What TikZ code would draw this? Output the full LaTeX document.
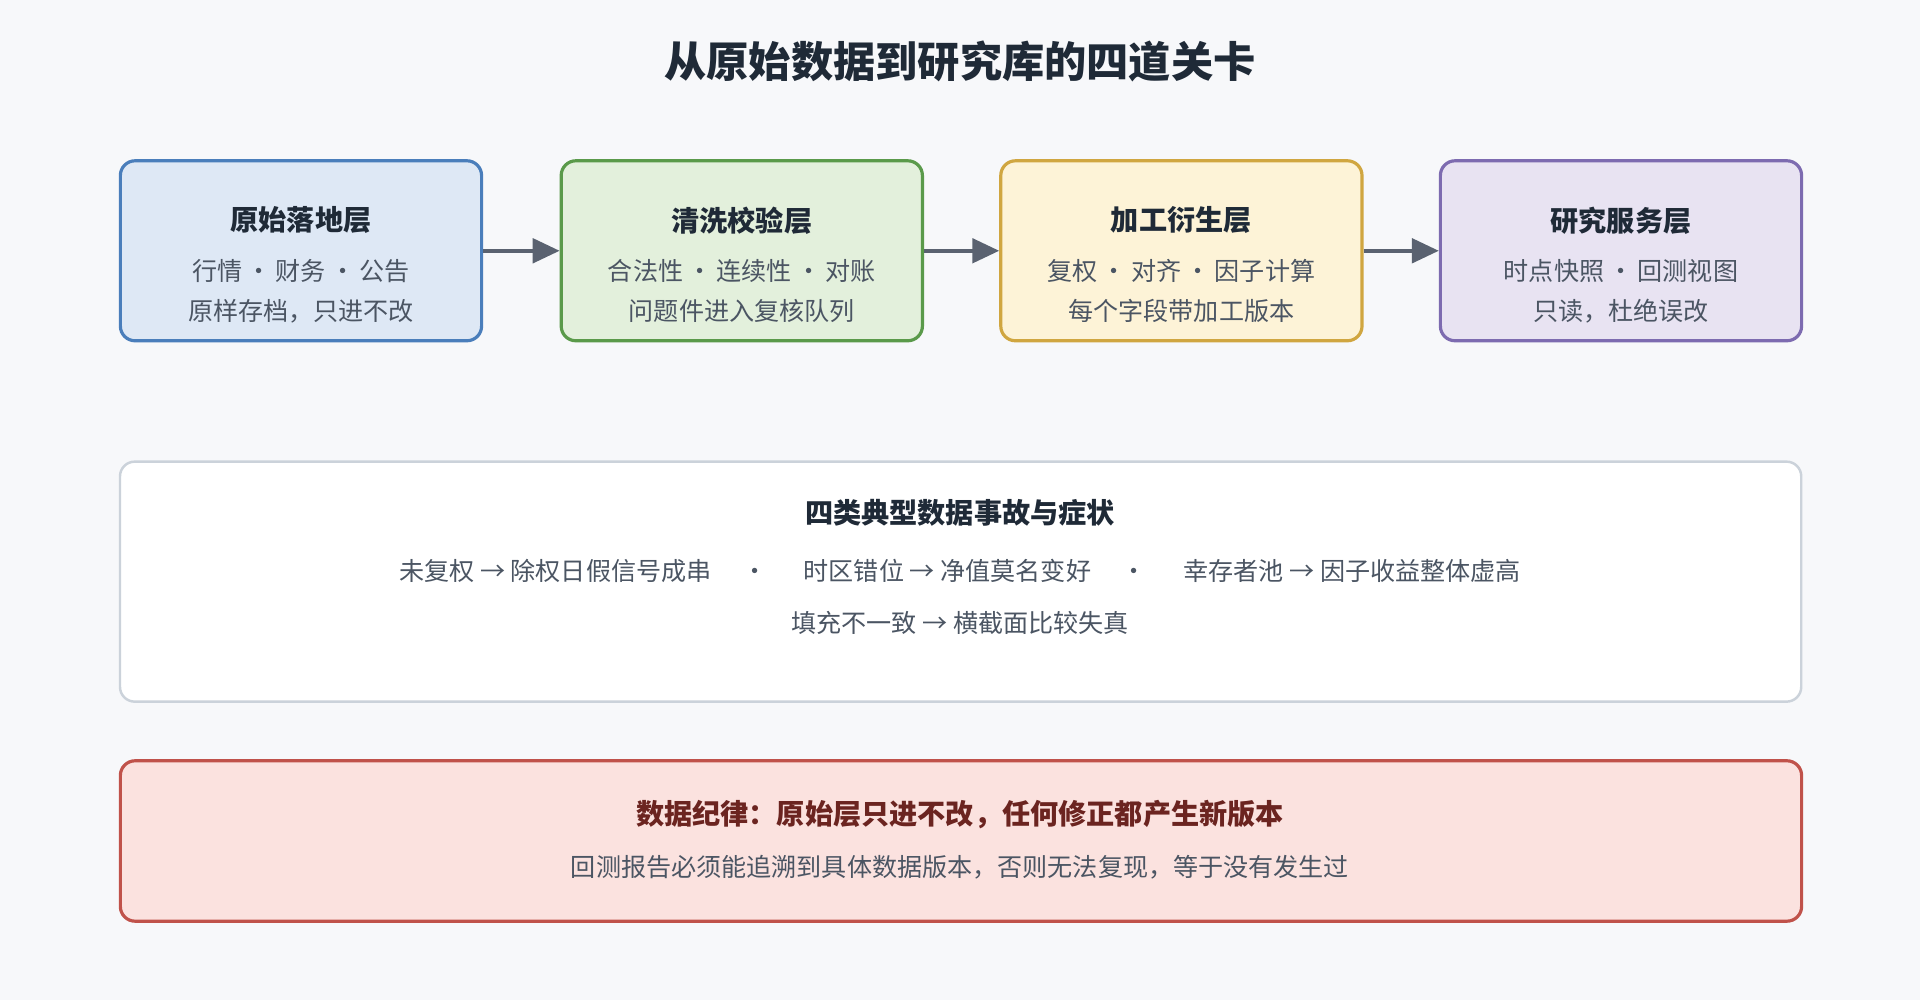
\documentclass[tikz,border=0pt]{standalone}
\usepackage{fontspec}
\setmainfont{Noto Sans CJK SC}
\usetikzlibrary{arrows.meta}
\definecolor{bg}{HTML}{F7F8FA}
\definecolor{ttl}{HTML}{1F2A37}
\definecolor{body}{HTML}{4B5563}
\definecolor{fA}{HTML}{DEE8F5}\definecolor{dA}{HTML}{4A7EBB}
\definecolor{fB}{HTML}{E3F0DC}\definecolor{dB}{HTML}{5A9A4A}
\definecolor{fC}{HTML}{FDF3D7}\definecolor{dC}{HTML}{D0A640}
\definecolor{fD}{HTML}{E8E3F2}\definecolor{dD}{HTML}{7D6BB0}
\definecolor{fR}{HTML}{FBE2DF}\definecolor{dR}{HTML}{C0524A}
\definecolor{tR}{HTML}{6B2420}
\definecolor{grayb}{HTML}{CBD2DA}
\definecolor{arr}{HTML}{5A6270}
\tikzset{
 box/.style={draw, line width=2.6pt, rounded corners=12pt, minimum width=295pt, minimum height=147pt, anchor=north west},
 wide/.style={draw, line width=2pt, rounded corners=12pt, minimum width=1373pt, anchor=north west},
 hd/.style={font=\fontsize{23}{27}\selectfont\bfseries, text=ttl},
 tx/.style={font=\fontsize{20.5}{24}\selectfont, text=body},
 ar/.style={draw=arr, line width=3pt, -{Triangle[length=22pt,width=20pt]}}
}
\begin{document}
\begin{tikzpicture}[x=1pt,y=-1pt]
\fill[bg] (0,0) rectangle (1568,817);
\useasboundingbox (0,0) rectangle (1568,817);
\node[font=\fontsize{34.5}{38}\selectfont\bfseries, text=ttl] (title) at (784,50) {从原始数据到研究库的四道关卡};
\node[box, fill=fA, draw=dA] (b1) at (97,130) {};
\node[box, fill=fB, draw=dB] (b2) at (457,130) {};
\node[box, fill=fC, draw=dC] (b3) at (816,130) {};
\node[box, fill=fD, draw=dD] (b4) at (1175,130) {};
\foreach \b/\h/\l/\m in {b1/原始落地层/行情{\,}·{\,}财务{\,}·{\,}公告/原样存档，只进不改,
 b2/清洗校验层/合法性{\,}·{\,}连续性{\,}·{\,}对账/问题件进入复核队列,
 b3/加工衍生层/复权{\,}·{\,}对齐{\,}·{\,}因子计算/每个字段带加工版本,
 b4/研究服务层/时点快照{\,}·{\,}回测视图/只读，杜绝误改}{
 \node[hd] (\b h) at ([yshift=-50]\b.north) {\h};
 \node[tx] (\b l) at ([yshift=-91]\b.north) {\l};
 \node[tx] (\b m) at ([yshift=-124]\b.north) {\m};
}
\draw[ar] (b1.east) -- (b2.west);
\draw[ar] (b2.east) -- (b3.west);
\draw[ar] (b3.east) -- (b4.west);
\node[wide, fill=white, draw=grayb, minimum height=196pt] (mid) at (97,376) {};
\node[hd] (midh) at (784,419) {四类典型数据事故与症状};
\node[tx] (midl) at (784,466) {未复权 → 除权日假信号成串\quad\ · \quad\ 时区错位 → 净值莫名变好\quad\ · \quad\ 幸存者池 → 因子收益整体虚高};
\node[tx] (midm) at (784,509) {填充不一致 → 横截面比较失真};
\node[wide, fill=fR, draw=dR, line width=2.6pt, minimum height=131pt] (bot) at (97,620) {};
\node[hd, text=tR] (both) at (784,665) {数据纪律：原始层只进不改，任何修正都产生新版本};
\node[tx] (botl) at (784,708) {回测报告必须能追溯到具体数据版本，否则无法复现，等于没有发生过};
\end{tikzpicture}
\end{document}
